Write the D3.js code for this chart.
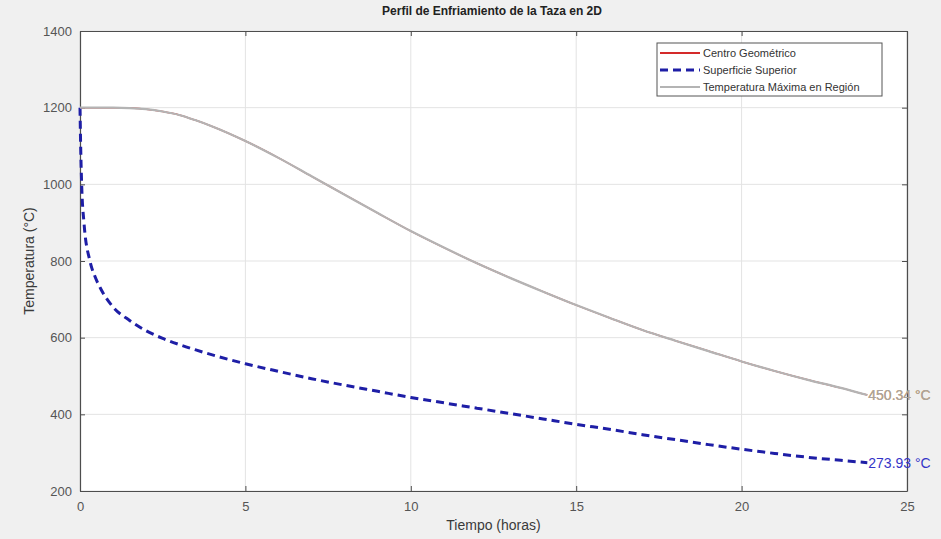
<!DOCTYPE html>
<html>
<head>
<meta charset="utf-8">
<script src="https://cdn.jsdelivr.net/npm/d3@7"></script>
<style>
  html, body { margin: 0; padding: 0; background: #f0f0f0; }
  svg { display: block; font-family: "Liberation Sans", Arial, sans-serif; }
</style>
</head>
<body>
<svg id="chart" width="941" height="539"></svg>
<script>
// Time axis (hours) shared by every series
const tiempo = [0, 0.02, 0.05, 0.12, 0.3, 0.45, 0.63, 1, 1.5, 2, 2.5, 3, 3.5, 4, 5, 6, 7, 8, 9, 10,
                11, 12, 13, 14, 15, 16, 17, 18, 19, 20, 21, 22, 23, 23.8];

// Temperature at the geometric centre (°C) – coincides with the regional maximum
const centro = [1200, 1200, 1200, 1200, 1200, 1200, 1200, 1200, 1199, 1196, 1190, 1181, 1167, 1151, 1113, 1069, 1021,
                973, 925, 878, 835, 794, 756, 720, 685, 652, 620, 592, 565, 538, 513, 490, 469, 450.34];

// Temperature of the top surface (°C)
const superficie = [1200, 1100, 1000, 900, 800, 760, 727, 680, 645, 618, 598, 582, 568, 555, 532, 512, 493,
                    476, 460, 444, 430, 416, 402, 388, 374, 361, 347, 334, 321, 309, 298, 288, 280, 273.93];

// Maximum temperature anywhere in the region (°C)
const maxima = centro.slice();

const xTicks = [0, 5, 10, 15, 20, 25];
const yTicks = [200, 400, 600, 800, 1000, 1200, 1400];
const leyenda = ["Centro Geométrico", "Superficie Superior", "Temperatura Máxima en Región"];

const svg = d3.select("#chart");
const m = { left: 80, right: 907, top: 31, bottom: 491 };

const x = d3.scaleLinear().domain([0, 25]).range([m.left, m.right]);
const y = d3.scaleLinear().domain([200, 1400]).range([m.bottom, m.top]);

// plot area
svg.append("rect")
  .attr("x", m.left).attr("y", m.top)
  .attr("width", m.right - m.left).attr("height", m.bottom - m.top)
  .attr("fill", "#ffffff");

// grid
const grid = svg.append("g").attr("stroke", "#e3e3e3").attr("stroke-width", 1);
xTicks.forEach(t => grid.append("line")
  .attr("x1", x(t)).attr("x2", x(t)).attr("y1", m.top).attr("y2", m.bottom));
yTicks.forEach(t => grid.append("line")
  .attr("x1", m.left).attr("x2", m.right).attr("y1", y(t)).attr("y2", y(t)));

// axes (ticks drawn inward, box on all four sides)
const axisColor = "#4d4d4d";
const styleAxis = g => {
  g.select(".domain").attr("stroke", axisColor).attr("stroke-width", 1.2);
  g.selectAll(".tick line").attr("stroke", axisColor);
  g.selectAll(".tick text").attr("fill", "#555555").attr("font-size", 13);
};
svg.append("g").attr("transform", `translate(0,${m.bottom})`)
  .call(d3.axisBottom(x).tickValues(xTicks).tickSizeInner(-5).tickSizeOuter(0).tickPadding(11).tickFormat(d3.format("d")))
  .call(styleAxis);
svg.append("g").attr("transform", `translate(${m.left},0)`)
  .call(d3.axisLeft(y).tickValues(yTicks).tickSizeInner(-5).tickSizeOuter(0).tickPadding(8).tickFormat(d3.format("d")))
  .call(styleAxis);
svg.append("g").attr("transform", `translate(0,${m.top})`)
  .call(d3.axisTop(x).tickValues(xTicks).tickSizeInner(-5).tickSizeOuter(0).tickFormat(""))
  .call(styleAxis);
svg.append("g").attr("transform", `translate(${m.right},0)`)
  .call(d3.axisRight(y).tickValues(yTicks).tickSizeInner(-5).tickSizeOuter(0).tickFormat(""))
  .call(styleAxis);

// series
const line = vals => d3.line().curve(d3.curveMonotoneX)
  .x((d, i) => x(tiempo[i])).y(d => y(d))(vals);
const colRed = "#d42a2a", colBlue = "#1e1ea6", colGray = "#b4b4b4";

svg.append("path").attr("d", line(centro))
  .attr("fill", "none").attr("stroke", colRed).attr("stroke-width", 1.5);
svg.append("path").attr("d", line(superficie))
  .attr("fill", "none").attr("stroke", colBlue).attr("stroke-width", 3)
  .attr("stroke-dasharray", "8,5");
svg.append("path").attr("d", line(maxima))
  .attr("fill", "none").attr("stroke", colGray).attr("stroke-width", 2.2);

// end-value labels
const last = tiempo.length - 1;
const endLabel = (vals, color) => svg.append("text")
  .attr("x", x(tiempo[last]) + 1).attr("y", y(vals[last]))
  .attr("dy", "0.35em").attr("font-size", 14)
  .attr("fill", color)
  .text(vals[last].toFixed(2) + " °C");
endLabel(centro, "#c98a3a");
endLabel(maxima, "#a8a8a8").attr("opacity", 0.9);
endLabel(superficie, "#3434c8");

// axis titles
svg.append("text")
  .attr("x", (m.left + m.right) / 2).attr("y", 530)
  .attr("text-anchor", "middle").attr("font-size", 14).attr("fill", "#3a3a3a")
  .text("Tiempo (horas)");
svg.append("text")
  .attr("transform", `translate(34,${(m.top + m.bottom) / 2}) rotate(-90)`)
  .attr("text-anchor", "middle").attr("font-size", 14).attr("fill", "#3a3a3a")
  .text("Temperatura (°C)");

// title
svg.append("text")
  .attr("x", 492).attr("y", 15)
  .attr("text-anchor", "middle").attr("font-size", 12).attr("font-weight", "bold").attr("fill", "#222")
  .text("Perfil de Enfriamiento de la Taza en 2D");

// legend
const lg = svg.append("g").attr("transform", "translate(657,43)");
lg.append("rect").attr("width", 225).attr("height", 53)
  .attr("fill", "#ffffff").attr("stroke", "#555").attr("stroke-width", 1);
const legStyles = [
  { color: colRed, width: 2, dash: null },
  { color: colBlue, width: 3, dash: "8,5" },
  { color: colGray, width: 2, dash: null }
];
leyenda.forEach((name, i) => {
  const yy = 10 + i * 17;
  lg.append("line").attr("x1", 3).attr("x2", 43).attr("y1", yy).attr("y2", yy)
    .attr("stroke", legStyles[i].color).attr("stroke-width", legStyles[i].width)
    .attr("stroke-dasharray", legStyles[i].dash);
  lg.append("text").attr("x", 46).attr("y", yy).attr("dy", "0.35em")
    .attr("font-size", 11).attr("fill", "#333").text(name);
});
</script>
</body>
</html>
